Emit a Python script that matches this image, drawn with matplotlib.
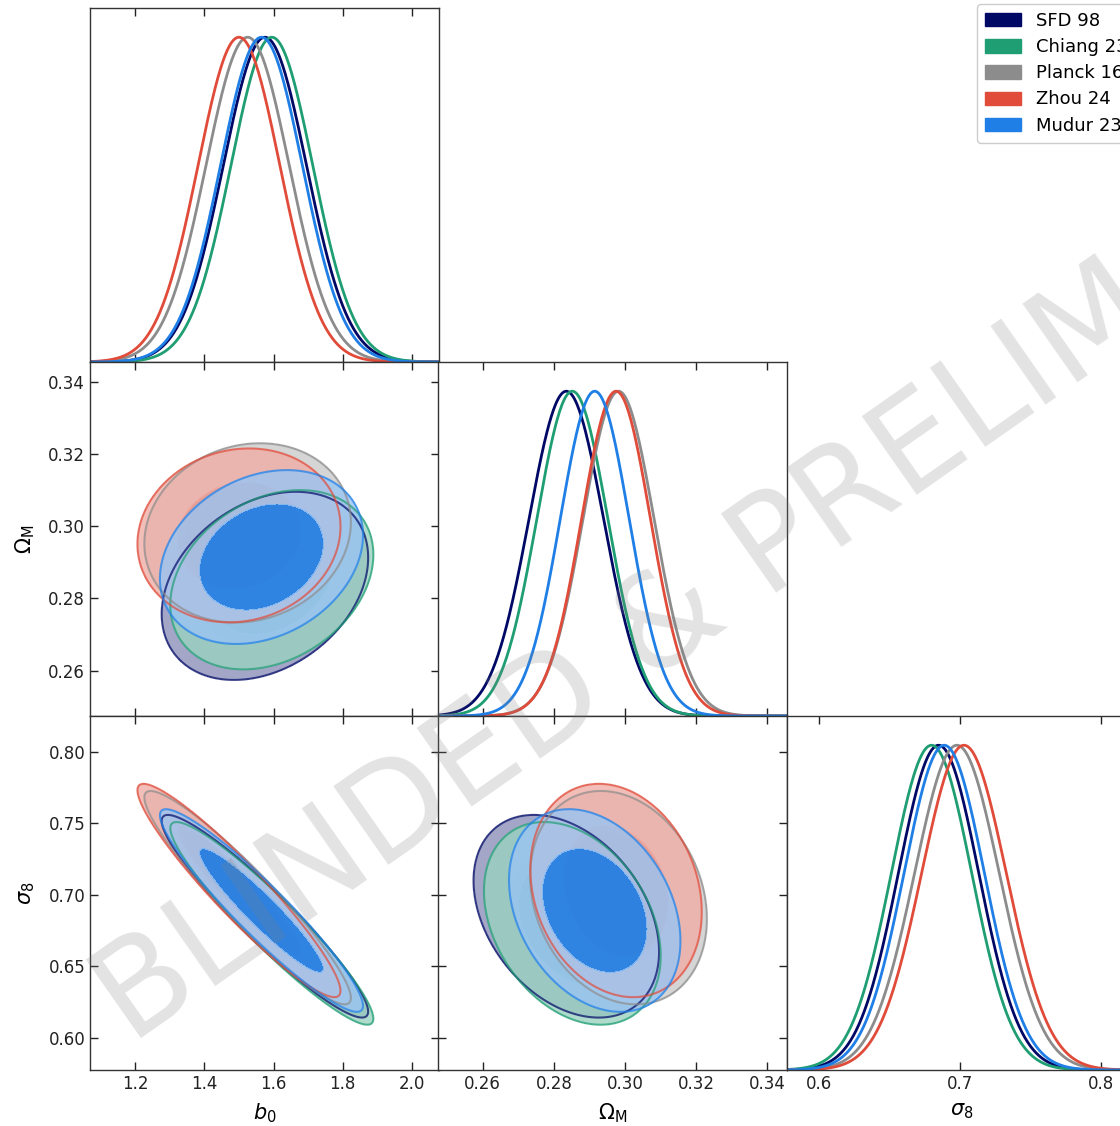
import numpy as np
import matplotlib
matplotlib.use('Agg')
import matplotlib.pyplot as plt
from matplotlib.patches import Patch
from matplotlib.colors import to_rgb

# posterior summaries for each dust map
names = ['SFD 98', 'Chiang 23', 'Planck 16', 'Zhou 24', 'Mudur 23']
colors = ['#000866', '#1f9e74', '#8c8c8c', '#e04b3a', '#1f7fe6']

b0_mean = [1.575, 1.595, 1.525, 1.500, 1.565]
om_mean = [0.2835, 0.2852, 0.2982, 0.2975, 0.2915]
s8_mean = [0.685, 0.680, 0.698, 0.703, 0.689]

b0_err = [0.120, 0.118, 0.120, 0.118, 0.118]
om_err = [0.0105, 0.0100, 0.0100, 0.0097, 0.0097]
s8_err = [0.0285, 0.0285, 0.030, 0.030, 0.0285]

# correlation coefficients between the parameter pairs
r_b0_om = [0.30, 0.28, 0.12, 0.10, 0.25]
r_b0_s8 = [-0.94, -0.94, -0.94, -0.94, -0.94]
r_om_s8 = [-0.35, -0.32, -0.20, -0.20, -0.30]

labels = [r'$b_0$', r'$\Omega_{\rm M}$', r'$\sigma_8$']
limits = [(1.0696, 2.078), (0.2474, 0.3456), (0.5775, 0.825)]
xticks = [[1.2, 1.4, 1.6, 1.8, 2.0],
          [0.26, 0.28, 0.30, 0.32, 0.34],
          [0.6, 0.7, 0.8]]
yticks = [None,
          [0.26, 0.28, 0.30, 0.32, 0.34],
          [0.60, 0.65, 0.70, 0.75, 0.80]]
ytick_fmt = [None, '%.2f', '%.2f']
xtick_fmt = ['%.1f', '%.2f', '%.1f']

means = [b0_mean, om_mean, s8_mean]
errs = [b0_err, om_err, s8_err]
corr = {(1, 0): r_b0_om, (2, 0): r_b0_s8, (2, 1): r_om_s8}

chi2_68, chi2_95 = 2.30, 6.18


def tint(c, f, a):
    # mix a colour towards white, keeping fraction f of it
    rgb = np.array(to_rgb(c))
    return tuple(f * rgb + (1 - f) * 1.0) + (a,)


outer_fill = [tint(c, 0.45, 0.8) for c in colors]
inner_fill = [tint(c, 0.6, 0.8) for c in colors[:-1]] + [tint(colors[-1], 1.0, 0.92)]

W, H = 1120, 1126
fig = plt.figure(figsize=(W / 100, H / 100), dpi=100)

col_left = [90, 438, 787]
col_w = 349
row_top = [8, 362, 716]
row_h = 354

for i in range(3):
    for j in range(i + 1):
        ax = fig.add_axes([col_left[j] / W, 1 - (row_top[i] + row_h) / H,
                           col_w / W, row_h / H])
        ax.set_xlim(limits[j])
        ax.tick_params(direction='in', length=6, width=1, labelsize=12,
                       top=True, right=(i != j), colors='#222222')
        for s in ax.spines.values():
            s.set_linewidth(1)
            s.set_color('#333333')
        ax.set_xticks(xticks[j])
        if i == 2:
            ax.set_xticklabels([xtick_fmt[j] % t for t in xticks[j]])
            ax.set_xlabel(labels[j], fontsize=15, labelpad=6)
        else:
            ax.set_xticklabels([])

        if i == j:
            # 1D marginal
            x = np.linspace(limits[j][0], limits[j][1], 500)
            for k in range(len(names)):
                y = np.exp(-0.5 * ((x - means[j][k]) / errs[j][k]) ** 2)
                ax.plot(x, y, color=colors[k], lw=2)
            ax.set_ylim(0, 1.09)
            ax.set_yticks([])
            continue

        ax.set_ylim(limits[i])
        ax.set_yticks(yticks[i])
        if j == 0:
            ax.set_yticklabels([ytick_fmt[i] % t for t in yticks[i]])
            ax.set_ylabel(labels[i], fontsize=15, labelpad=8)
        else:
            ax.set_yticklabels([])
        gx = np.linspace(limits[j][0], limits[j][1], 300)
        gy = np.linspace(limits[i][0], limits[i][1], 300)
        X, Y = np.meshgrid(gx, gy)
        surfaces = []
        for k in range(len(names)):
            sx, sy = errs[j][k], errs[i][k]
            r = corr[(i, j)][k]
            dx = (X - means[j][k]) / sx
            dy = (Y - means[i][k]) / sy
            chi2 = (dx ** 2 - 2 * r * dx * dy + dy ** 2) / (1 - r ** 2)
            surfaces.append(chi2)
            ax.contourf(X, Y, chi2, levels=[0, chi2_68, chi2_95],
                        colors=[inner_fill[k], outer_fill[k]])
        # outlines go over all the fills
        for k, chi2 in enumerate(surfaces):
            ax.contour(X, Y, chi2, levels=[chi2_95], colors=[colors[k]],
                       linewidths=1.5, alpha=0.7)

handles = [Patch(facecolor=c, edgecolor=c, label=n) for n, c in zip(names, colors)]
fig.legend(handles=handles, loc='upper left',
           bbox_to_anchor=(977 / W, 1 - 4 / H), borderaxespad=0,
           fontsize=13, handlelength=2.0, handleheight=0.75,
           labelspacing=0.45, borderpad=0.45, framealpha=1,
           edgecolor='#cccccc')

fig.text(625 / W, 1 - 655 / H, 'BLINDED & PRELIM', fontsize=95,
         color='gray', alpha=0.22, rotation=35, ha='center', va='center',
         rotation_mode='anchor', zorder=10)

fig.savefig('out.png', dpi=100)
